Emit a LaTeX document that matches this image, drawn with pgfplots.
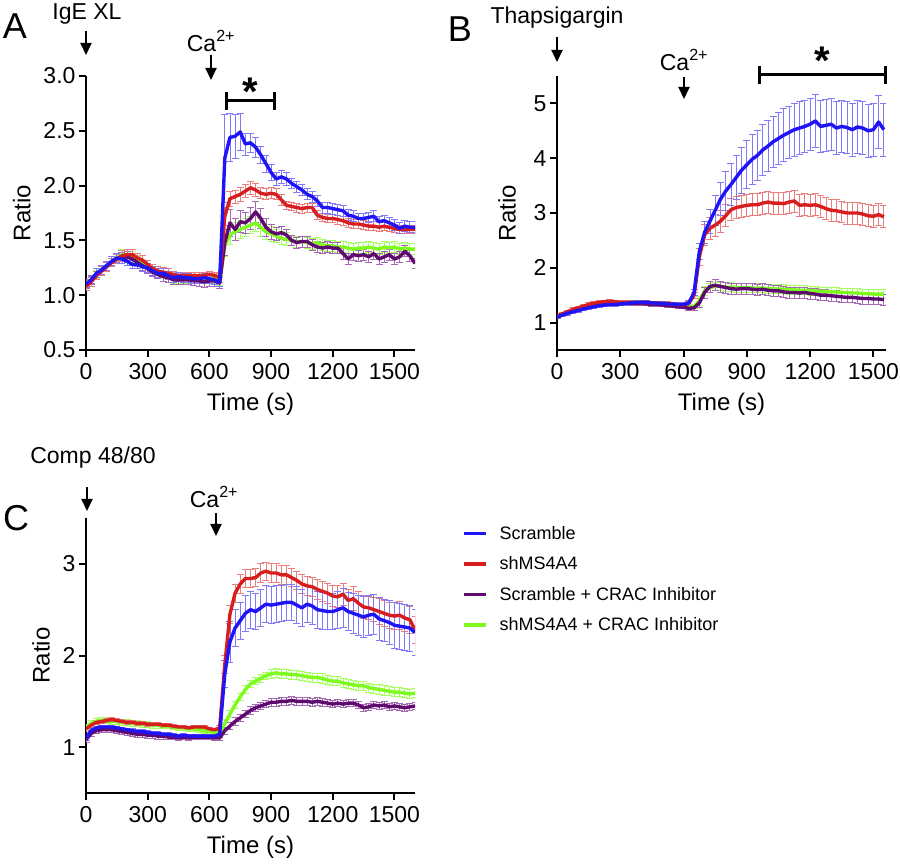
\documentclass[border=0pt]{standalone}
\usepackage{fontspec}
\setmainfont{Liberation Sans}
\usepackage{pgfplots}
\usepackage{pgfplotstable}
\pgfplotsset{compat=1.18}
\usetikzlibrary{arrows.meta}

\definecolor{blueL}{RGB}{30,20,245}
\definecolor{redL}{RGB}{215,30,30}
\definecolor{purpL}{RGB}{95,10,110}
\definecolor{greenL}{RGB}{125,250,30}
\definecolor{blueE}{RGB}{130,120,250}
\definecolor{redE}{RGB}{235,125,125}
\definecolor{purpE}{RGB}{165,105,180}
\definecolor{greenE}{RGB}{165,255,95}

% t, mean and SEM for Scramble (b), shMS4A4 (r), Scramble+CRAC (p), shMS4A4+CRAC (g)
\pgfplotstableread{
t b be r re p pe g ge
0 1.10 0.03 1.08 0.04 1.10 0.04 1.10 0.04
25 1.14 0.03 1.12 0.04 1.14 0.04 1.14 0.04
50 1.20 0.04 1.18 0.04 1.18 0.04 1.19 0.04
75 1.23 0.04 1.22 0.04 1.22 0.04 1.23 0.04
100 1.27 0.04 1.26 0.04 1.26 0.04 1.27 0.04
125 1.31 0.04 1.30 0.04 1.30 0.04 1.31 0.04
150 1.34 0.04 1.33 0.04 1.33 0.04 1.34 0.04
175 1.33 0.04 1.36 0.05 1.34 0.05 1.37 0.05
200 1.31 0.04 1.37 0.05 1.35 0.05 1.37 0.05
225 1.28 0.04 1.37 0.05 1.33 0.05 1.35 0.05
250 1.28 0.04 1.34 0.04 1.30 0.04 1.31 0.04
275 1.26 0.04 1.32 0.04 1.27 0.04 1.28 0.04
300 1.25 0.04 1.28 0.04 1.24 0.04 1.25 0.04
325 1.22 0.04 1.24 0.04 1.21 0.04 1.21 0.04
350 1.20 0.04 1.22 0.04 1.19 0.04 1.19 0.04
375 1.20 0.04 1.21 0.04 1.17 0.04 1.17 0.04
400 1.18 0.04 1.20 0.04 1.16 0.04 1.16 0.04
425 1.16 0.04 1.19 0.03 1.14 0.04 1.15 0.04
450 1.17 0.04 1.18 0.03 1.14 0.04 1.15 0.04
475 1.16 0.04 1.18 0.03 1.14 0.04 1.15 0.04
500 1.16 0.04 1.18 0.03 1.14 0.04 1.15 0.04
525 1.15 0.04 1.18 0.03 1.13 0.04 1.15 0.04
550 1.15 0.04 1.18 0.03 1.13 0.05 1.15 0.04
575 1.16 0.04 1.18 0.03 1.12 0.05 1.15 0.04
600 1.15 0.04 1.19 0.03 1.13 0.05 1.15 0.04
625 1.14 0.04 1.18 0.03 1.13 0.05 1.15 0.04
650 1.12 0.04 1.16 0.04 1.11 0.05 1.13 0.04
675 2.25 0.40 1.72 0.08 1.48 0.12 1.45 0.10
700 2.44 0.22 1.88 0.07 1.66 0.12 1.55 0.09
725 2.45 0.20 1.90 0.06 1.60 0.10 1.58 0.08
750 2.49 0.17 1.92 0.06 1.67 0.10 1.60 0.08
775 2.38 0.10 1.95 0.06 1.66 0.10 1.62 0.08
800 2.39 0.09 1.98 0.06 1.70 0.10 1.64 0.08
825 2.35 0.09 1.96 0.06 1.76 0.10 1.66 0.08
850 2.28 0.08 1.93 0.05 1.70 0.09 1.62 0.08
875 2.20 0.08 1.92 0.05 1.62 0.08 1.58 0.07
900 2.12 0.07 1.93 0.05 1.58 0.07 1.56 0.07
925 2.06 0.06 1.92 0.05 1.56 0.06 1.54 0.06
950 2.08 0.06 1.87 0.05 1.57 0.06 1.52 0.06
975 2.06 0.06 1.82 0.04 1.55 0.05 1.51 0.06
1000 2.02 0.05 1.81 0.04 1.50 0.05 1.50 0.05
1025 1.99 0.05 1.80 0.04 1.48 0.05 1.49 0.05
1050 1.96 0.05 1.79 0.04 1.49 0.05 1.49 0.05
1075 1.92 0.05 1.80 0.04 1.49 0.05 1.48 0.05
1100 1.90 0.05 1.80 0.04 1.46 0.05 1.47 0.05
1125 1.86 0.05 1.73 0.04 1.44 0.05 1.48 0.05
1150 1.80 0.05 1.71 0.04 1.43 0.05 1.46 0.05
1175 1.80 0.05 1.70 0.04 1.44 0.05 1.45 0.05
1200 1.79 0.05 1.70 0.04 1.43 0.05 1.45 0.05
1225 1.78 0.05 1.69 0.04 1.43 0.05 1.44 0.05
1250 1.77 0.05 1.68 0.04 1.38 0.05 1.44 0.05
1275 1.73 0.05 1.66 0.04 1.33 0.05 1.43 0.05
1300 1.72 0.05 1.65 0.04 1.37 0.05 1.42 0.05
1325 1.70 0.05 1.65 0.04 1.36 0.05 1.43 0.05
1350 1.70 0.05 1.64 0.04 1.37 0.05 1.43 0.05
1375 1.71 0.05 1.63 0.04 1.35 0.05 1.44 0.05
1400 1.72 0.05 1.63 0.04 1.38 0.05 1.43 0.05
1425 1.67 0.05 1.62 0.04 1.33 0.05 1.42 0.05
1450 1.68 0.05 1.63 0.04 1.35 0.05 1.44 0.05
1475 1.66 0.05 1.62 0.04 1.37 0.05 1.43 0.05
1500 1.64 0.05 1.61 0.04 1.33 0.05 1.44 0.05
1525 1.61 0.05 1.60 0.04 1.35 0.05 1.42 0.05
1550 1.63 0.05 1.60 0.04 1.40 0.05 1.43 0.05
1575 1.62 0.05 1.60 0.04 1.36 0.05 1.42 0.05
1600 1.62 0.05 1.60 0.04 1.29 0.05 1.42 0.05
}\tA

\pgfplotstableread{
t b be r re p pe g ge
0 1.10 0.03 1.12 0.03 1.10 0.03 1.11 0.03
25 1.14 0.03 1.16 0.03 1.14 0.03 1.15 0.03
50 1.17 0.03 1.20 0.03 1.17 0.03 1.18 0.03
75 1.20 0.03 1.24 0.03 1.20 0.03 1.21 0.03
100 1.22 0.03 1.27 0.03 1.23 0.03 1.24 0.03
125 1.25 0.03 1.30 0.03 1.26 0.03 1.27 0.03
150 1.27 0.03 1.33 0.03 1.28 0.03 1.29 0.03
175 1.29 0.03 1.35 0.03 1.30 0.03 1.31 0.03
200 1.31 0.03 1.37 0.03 1.32 0.03 1.33 0.03
225 1.32 0.03 1.38 0.03 1.33 0.03 1.34 0.03
250 1.33 0.03 1.39 0.03 1.34 0.03 1.35 0.03
275 1.33 0.03 1.38 0.03 1.34 0.03 1.35 0.03
300 1.34 0.03 1.37 0.03 1.34 0.03 1.36 0.03
325 1.35 0.03 1.37 0.03 1.35 0.03 1.36 0.03
350 1.36 0.03 1.37 0.03 1.35 0.03 1.37 0.03
375 1.37 0.03 1.37 0.03 1.35 0.03 1.37 0.03
400 1.37 0.03 1.37 0.03 1.35 0.03 1.37 0.03
425 1.37 0.03 1.37 0.03 1.34 0.03 1.36 0.03
450 1.36 0.03 1.36 0.03 1.33 0.03 1.36 0.03
475 1.35 0.03 1.36 0.03 1.33 0.03 1.35 0.03
500 1.35 0.03 1.35 0.03 1.32 0.03 1.34 0.03
525 1.34 0.03 1.35 0.03 1.31 0.03 1.33 0.03
550 1.34 0.03 1.34 0.03 1.30 0.03 1.32 0.03
575 1.33 0.03 1.33 0.03 1.29 0.03 1.31 0.03
600 1.33 0.03 1.32 0.03 1.28 0.03 1.30 0.03
625 1.36 0.04 1.35 0.04 1.26 0.03 1.28 0.03
650 1.55 0.06 1.50 0.05 1.27 0.04 1.29 0.04
675 2.30 0.15 2.20 0.15 1.36 0.08 1.40 0.08
700 2.65 0.20 2.60 0.20 1.55 0.10 1.58 0.08
725 2.85 0.22 2.72 0.20 1.66 0.10 1.64 0.08
750 3.05 0.28 2.78 0.20 1.68 0.10 1.66 0.08
775 3.25 0.30 2.85 0.20 1.66 0.10 1.66 0.08
800 3.40 0.35 2.95 0.20 1.64 0.10 1.65 0.08
825 3.52 0.38 3.06 0.20 1.62 0.10 1.65 0.08
850 3.65 0.40 3.10 0.20 1.61 0.10 1.64 0.08
875 3.78 0.42 3.12 0.20 1.62 0.10 1.64 0.08
900 3.88 0.44 3.14 0.20 1.62 0.10 1.64 0.08
925 3.98 0.45 3.15 0.20 1.61 0.10 1.63 0.08
950 4.05 0.46 3.15 0.20 1.60 0.10 1.63 0.08
975 4.15 0.46 3.18 0.20 1.61 0.10 1.63 0.08
1000 4.22 0.47 3.20 0.20 1.59 0.10 1.62 0.08
1025 4.30 0.47 3.18 0.20 1.58 0.10 1.62 0.08
1050 4.36 0.48 3.18 0.20 1.58 0.10 1.61 0.08
1075 4.42 0.48 3.17 0.20 1.56 0.10 1.61 0.08
1100 4.47 0.48 3.20 0.20 1.55 0.10 1.60 0.08
1125 4.52 0.48 3.22 0.20 1.55 0.10 1.60 0.08
1150 4.55 0.48 3.14 0.20 1.54 0.10 1.59 0.08
1175 4.58 0.48 3.15 0.20 1.55 0.10 1.59 0.08
1200 4.62 0.48 3.14 0.20 1.53 0.10 1.58 0.08
1225 4.68 0.48 3.15 0.20 1.52 0.10 1.58 0.08
1250 4.58 0.48 3.12 0.20 1.50 0.10 1.57 0.08
1275 4.60 0.48 3.08 0.20 1.50 0.10 1.57 0.08
1300 4.62 0.48 3.05 0.20 1.49 0.10 1.56 0.08
1325 4.55 0.48 3.04 0.20 1.48 0.10 1.56 0.08
1350 4.58 0.48 3.02 0.20 1.47 0.10 1.55 0.08
1375 4.56 0.48 3.00 0.20 1.46 0.10 1.55 0.08
1400 4.52 0.48 3.00 0.20 1.46 0.10 1.54 0.08
1425 4.57 0.48 3.00 0.20 1.45 0.10 1.54 0.08
1450 4.55 0.48 2.98 0.20 1.44 0.10 1.53 0.08
1475 4.50 0.48 2.95 0.20 1.44 0.10 1.53 0.08
1500 4.52 0.48 2.94 0.20 1.43 0.10 1.52 0.08
1525 4.66 0.48 2.97 0.20 1.43 0.10 1.52 0.08
1550 4.52 0.48 2.93 0.20 1.42 0.10 1.52 0.08
}\tB

\pgfplotstableread{
t b be r re p pe g ge
0 1.10 0.03 1.20 0.03 1.08 0.03 1.22 0.03
25 1.18 0.02 1.24 0.02 1.15 0.03 1.26 0.03
50 1.21 0.02 1.27 0.02 1.18 0.03 1.28 0.03
75 1.22 0.02 1.28 0.02 1.19 0.03 1.29 0.03
100 1.22 0.02 1.29 0.02 1.19 0.03 1.29 0.03
125 1.22 0.02 1.30 0.02 1.19 0.03 1.28 0.03
150 1.21 0.02 1.29 0.02 1.18 0.03 1.28 0.03
175 1.20 0.02 1.28 0.02 1.17 0.03 1.27 0.03
200 1.19 0.02 1.27 0.02 1.16 0.03 1.27 0.03
225 1.18 0.02 1.27 0.02 1.15 0.03 1.26 0.03
250 1.17 0.02 1.26 0.02 1.14 0.03 1.26 0.03
275 1.17 0.02 1.26 0.02 1.14 0.03 1.25 0.03
300 1.16 0.02 1.25 0.02 1.13 0.03 1.25 0.03
325 1.15 0.02 1.25 0.02 1.13 0.03 1.24 0.03
350 1.15 0.02 1.25 0.02 1.12 0.03 1.24 0.03
375 1.14 0.02 1.24 0.02 1.12 0.03 1.23 0.03
400 1.14 0.02 1.24 0.02 1.11 0.03 1.23 0.03
425 1.13 0.02 1.23 0.02 1.11 0.03 1.22 0.03
450 1.12 0.02 1.22 0.02 1.10 0.03 1.21 0.03
475 1.13 0.02 1.22 0.02 1.11 0.03 1.21 0.03
500 1.12 0.02 1.21 0.02 1.10 0.03 1.20 0.03
525 1.12 0.02 1.22 0.02 1.11 0.03 1.20 0.03
550 1.12 0.02 1.22 0.02 1.11 0.03 1.19 0.03
575 1.12 0.02 1.22 0.02 1.11 0.03 1.18 0.03
600 1.12 0.02 1.20 0.02 1.11 0.03 1.17 0.03
625 1.12 0.02 1.19 0.02 1.10 0.03 1.16 0.03
650 1.14 0.03 1.21 0.03 1.10 0.03 1.15 0.03
675 1.80 0.15 1.90 0.10 1.18 0.04 1.26 0.04
700 2.15 0.22 2.45 0.10 1.23 0.04 1.36 0.04
725 2.30 0.20 2.68 0.10 1.28 0.04 1.46 0.04
750 2.38 0.20 2.78 0.10 1.32 0.04 1.55 0.04
775 2.46 0.20 2.84 0.10 1.36 0.04 1.63 0.04
800 2.50 0.20 2.84 0.10 1.40 0.04 1.69 0.04
825 2.48 0.20 2.85 0.10 1.43 0.04 1.72 0.04
850 2.52 0.20 2.90 0.10 1.45 0.04 1.75 0.04
875 2.56 0.20 2.92 0.10 1.47 0.04 1.78 0.04
900 2.55 0.20 2.90 0.10 1.49 0.04 1.80 0.05
925 2.56 0.20 2.90 0.10 1.49 0.04 1.81 0.05
950 2.57 0.20 2.88 0.10 1.50 0.04 1.80 0.05
975 2.58 0.20 2.88 0.10 1.50 0.04 1.80 0.05
1000 2.58 0.20 2.85 0.10 1.51 0.04 1.79 0.05
1025 2.55 0.20 2.82 0.10 1.50 0.04 1.79 0.05
1050 2.52 0.20 2.78 0.10 1.50 0.04 1.78 0.05
1075 2.56 0.20 2.76 0.10 1.50 0.04 1.77 0.05
1100 2.54 0.20 2.75 0.10 1.49 0.04 1.76 0.05
1125 2.50 0.20 2.72 0.11 1.50 0.04 1.76 0.05
1150 2.49 0.20 2.70 0.11 1.49 0.04 1.75 0.05
1175 2.48 0.20 2.68 0.11 1.48 0.04 1.73 0.05
1200 2.48 0.20 2.65 0.11 1.47 0.04 1.72 0.05
1225 2.50 0.20 2.64 0.12 1.48 0.04 1.72 0.05
1250 2.52 0.21 2.67 0.12 1.47 0.04 1.70 0.05
1275 2.48 0.21 2.60 0.12 1.48 0.04 1.69 0.05
1300 2.46 0.22 2.62 0.13 1.48 0.04 1.68 0.05
1325 2.44 0.22 2.57 0.13 1.46 0.04 1.67 0.05
1350 2.42 0.22 2.53 0.13 1.43 0.04 1.67 0.05
1375 2.44 0.22 2.52 0.13 1.44 0.04 1.65 0.05
1400 2.45 0.22 2.50 0.13 1.46 0.04 1.64 0.05
1425 2.40 0.23 2.48 0.14 1.45 0.04 1.63 0.05
1450 2.38 0.23 2.46 0.14 1.46 0.04 1.62 0.05
1475 2.36 0.24 2.44 0.14 1.44 0.04 1.61 0.05
1500 2.33 0.25 2.43 0.15 1.45 0.04 1.60 0.05
1525 2.32 0.25 2.44 0.15 1.44 0.04 1.60 0.05
1550 2.31 0.25 2.41 0.15 1.43 0.04 1.59 0.05
1575 2.30 0.25 2.39 0.15 1.44 0.04 1.58 0.05
1600 2.25 0.25 2.28 0.15 1.45 0.04 1.59 0.05
}\tC

\pgfplotsset{
  panel/.style={scale only axis, width=329pt, height=274pt,
    axis lines=left, axis line style={line width=2.4pt, -},
    tick style={line width=2pt, black}, tick align=outside, major tick length=7pt,
    xmin=0, xtick={0,300,...,1500},
    ticklabel style={font=\fontsize{23}{25}\selectfont},
    xticklabel style={yshift=-3pt},
    /pgf/number format/assume math mode=true, /pgf/number format/1000 sep={},
    xlabel={Time (s)}, ylabel={Ratio},
    label style={font=\fontsize{24}{26}\selectfont},
    xlabel style={at={(axis description cs:0.5,-0.198)}, anchor=center}},
  eb/.style={draw=none, forget plot, error bars/.cd, y dir=both, y explicit,
    error bar style={draw=#1, line width=0.8pt},
    error mark options={rotate=90, draw=#1, line width=0.8pt, mark size=3.5pt}},
  ln/.style={draw=#1, line width=3.4pt, line join=round, mark=none},
}

\newcommand{\series}[1]{%
  \addplot[eb=greenE] table[x=t, y=g, y error=ge] {#1};
  \addplot[eb=purpE] table[x=t, y=p, y error=pe] {#1};
  \addplot[eb=redE] table[x=t, y=r, y error=re] {#1};
  \addplot[eb=blueE] table[x=t, y=b, y error=be] {#1};
  \addplot[ln=greenL] table[x=t, y=g] {#1};
  \addplot[ln=purpL] table[x=t, y=p] {#1};
  \addplot[ln=redL] table[x=t, y=r] {#1};
  \addplot[ln=blueL] table[x=t, y=b] {#1};
}

\begin{document}
\begin{tikzpicture}[x=1pt, y=1pt]
\useasboundingbox (0,0) rectangle (900,863);

% panel A
\begin{axis}[panel, at={(86pt,513pt)}, anchor=south west,
  xmax=1600, ymin=0.5, ymax=3.0, ytick={0.5,1.0,...,3.0},
  yticklabel style={/pgf/number format/.cd, fixed, fixed zerofill, precision=1},
  ylabel style={at={(axis description cs:-0.195,0.5)}, anchor=center}]
\series{\tA}
\end{axis}

% panel B
\begin{axis}[panel, at={(557pt,513pt)}, anchor=south west,
  xmax=1560, ymin=0.5, ymax=5.5, ytick={1,2,3,4,5},
  ylabel style={at={(axis description cs:-0.152,0.5)}, anchor=center}]
\series{\tB}
\end{axis}

% panel C
\begin{axis}[panel, at={(86pt,70pt)}, anchor=south west, height=275pt,
  xmax=1600, ymin=0.5, ymax=3.5, ytick={1,2,3},
  ylabel style={at={(axis description cs:-0.137,0.5)}, anchor=center},
  legend entries={shMS4A4 + CRAC Inhibitor, Scramble + CRAC Inhibitor, shMS4A4, Scramble},
  reverse legend,
  legend style={at={(1.143,0.985)}, anchor=north west, draw=none, fill=none,
    font=\fontsize{18}{20}\selectfont, row sep=12pt, cells={anchor=west},
    inner xsep=0pt},
  legend image code/.code={\draw[#1, line width=3.5pt] (0pt,0pt) -- (22pt,0pt); \path (32pt,0pt);}]
\series{\tC}
\end{axis}

% annotations
\tikzset{ann/.style={font=\fontsize{23}{25}\selectfont},
  arr/.style={line width=2pt, -{Triangle[length=12pt, width=11pt]}},
  lab/.style={font=\fontsize{36}{38}\selectfont}}
\node[lab] at (15,837) {A};
\node[lab] at (460,834) {B};
\node[lab] at (16,345) {C};

\node[ann] at (87,849) {IgE XL};
\draw[arr] (86,832) -- (86,808);
\node[ann] at (211,822) {Ca\textsuperscript{2+}};
\draw[arr] (211,808) -- (211,783);
\draw[line width=3pt] (226,753) -- (226,771) (226,762) -- (274,762) (274,753) -- (274,771);
\node[font=\bfseries\fontsize{40}{42}\selectfont] at (250,771) {*};

\node[ann] at (557,845) {Thapsigargin};
\draw[arr] (557,826) -- (557,801);
\node[ann] at (684,803) {Ca\textsuperscript{2+}};
\draw[arr] (684,786) -- (684,764);
\draw[line width=3pt] (759,779) -- (759,797) (759,788) -- (885,788) (885,779) -- (885,797);
\node[font=\bfseries\fontsize{40}{42}\selectfont] at (822,802) {*};

\node[ann] at (93,405) {Comp 48/80};
\draw[arr] (87,376) -- (87,352);
\node[ann] at (214,366) {Ca\textsuperscript{2+}};
\draw[arr] (216,350) -- (216,327);
\end{tikzpicture}
\end{document}
